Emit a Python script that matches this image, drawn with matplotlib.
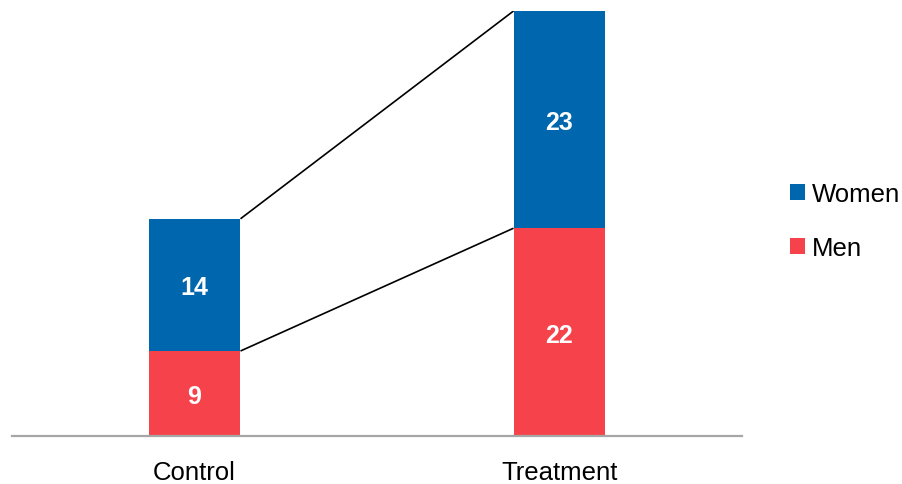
import matplotlib
matplotlib.use("Agg")
import matplotlib.pyplot as plt
from matplotlib.patches import Patch
import numpy as np

plt.rcParams['font.family'] = ['Liberation Sans', 'DejaVu Sans']

categories = ["Control", "Treatment"]
men = [9, 22]
women = [14, 23]

blue = "#0066AD"
red = "#F5424B"

fig = plt.figure(figsize=(9.03, 4.85), dpi=100)
W, H = 903, 485
ax = fig.add_axes([12 / W, (H - 437) / H, 730 / W, 425 / H])

x = np.arange(len(categories))
bw = 0.252
men_arr = np.array(men)
women_arr = np.array(women)
totals = men_arr + women_arr

ax.bar(x, men_arr, width=bw, color=red, zorder=2)
ax.bar(x, women_arr, width=bw, bottom=men_arr, color=blue, zorder=2)

# Series lines joining the segment tops of neighbouring bars
for i in range(len(x) - 1):
    x0 = x[i] + bw / 2
    x1 = x[i + 1] - bw / 2
    ax.plot([x0, x1], [men_arr[i], men_arr[i + 1]], color="black", lw=1.2, zorder=1,
            solid_capstyle="butt")
    ax.plot([x0, x1], [totals[i], totals[i + 1]], color="black", lw=1.2, zorder=1,
            solid_capstyle="butt")

for xi, m, w in zip(x, men_arr, women_arr):
    ax.text(xi, m / 2, str(m), ha="center", va="center_baseline", color="white",
            fontsize=18, fontweight="bold")
    ax.text(xi, m + w / 2, str(w), ha="center", va="center_baseline", color="white",
            fontsize=18, fontweight="bold")

ax.set_xlim(-0.5, 1.5)
ax.set_ylim(0, totals.max())
ax.set_yticks([])
ax.set_xticks(x)
ax.set_xticklabels(categories, fontsize=18.5)
ax.tick_params(axis="x", length=0, pad=17)
for s in ["top", "right", "left"]:
    ax.spines[s].set_visible(False)
ax.spines["bottom"].set_color("#A6A6A6")
ax.spines["bottom"].set_linewidth(1.6)
ax.spines["bottom"].set_zorder(3)

handles = [Patch(facecolor=blue, label="Women"), Patch(facecolor=red, label="Men")]
fig.legend(handles=handles, loc="center left", bbox_to_anchor=(790 / W, 1 - 222 / H),
           frameon=False, fontsize=18.5, handlelength=0.6, handleheight=0.6,
           handletextpad=0.25, labelspacing=1.16, borderaxespad=0, borderpad=0)

fig.savefig("out.png", dpi=100)
